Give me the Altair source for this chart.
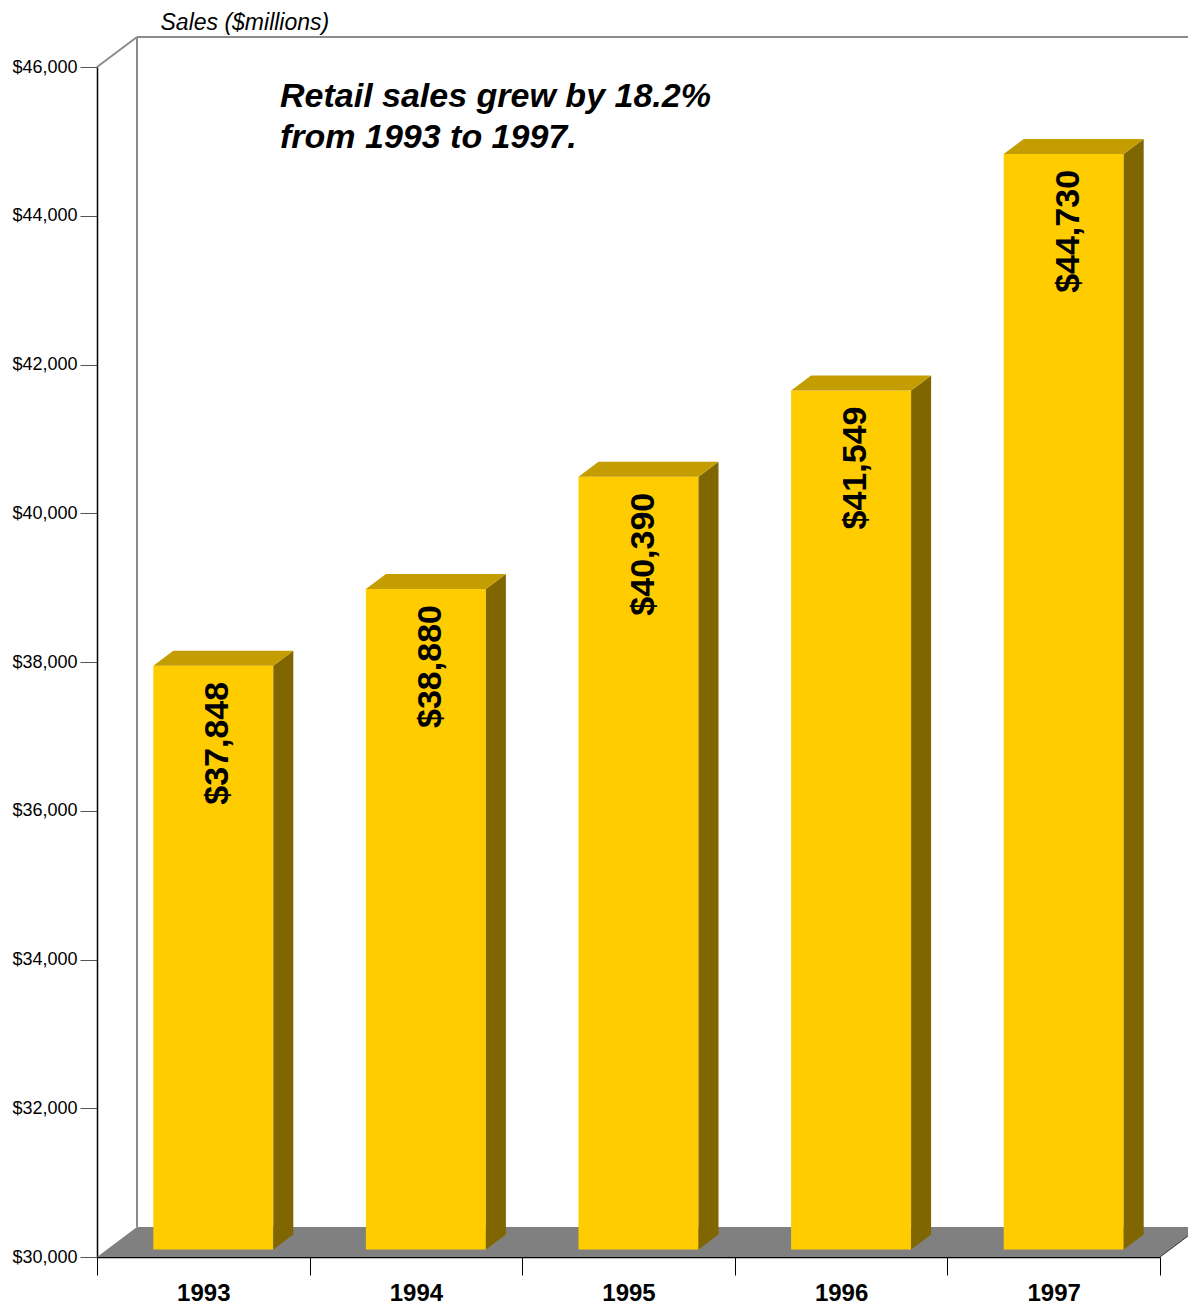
import altair as alt
import pandas as pd

# ---------------- data ----------------
YEARS = ["1993", "1994", "1995", "1996", "1997"]
SALES = [37848, 38880, 40390, 41549, 44730]
Y_TICKS = [30000, 32000, 34000, 36000, 38000, 40000, 42000, 44000, 46000]
ANNOTATION = ["Retail sales grew by 18.2%", "from 1993 to 1997."]
Y_TITLE = "Sales ($millions)"

# ---------------- layout / style ----------------
FONT = "Liberation Sans"
PLOT_W, PLOT_H = 1091, 1220
X_RANGE_PX = 1063
Y_RANGE = [1220, 30]
N = len(YEARS)
Y0, YMAX = Y_TICKS[0], Y_TICKS[-1]
BAND_PX = X_RANGE_PX / N
PX_PER_UNIT = (Y_RANGE[0] - Y_RANGE[1]) / (YMAX - Y0)
DX = 40 / BAND_PX          # scene depth in x data units
DY = 30 / PX_PER_UNIT      # scene depth in y data units
HALF_W = 60 / BAND_PX      # half bar width in x data units

FRONT = "#FFCC00"
TOP = "#C49E00"
SIDE = "#806600"
FLOOR = "#808080"
WALL = "#8C8C8C"

XS = alt.Scale(domain=[0, N], range=[0, X_RANGE_PX], nice=False, zero=False)
YS = alt.Scale(domain=[Y0, YMAX], range=Y_RANGE, nice=False, zero=False)

# ---------------- derived tables ----------------
front_rows, top_rows, side_rows, label_rows = [], [], [], []
for i, (yr, v) in enumerate(zip(YEARS, SALES)):
    c = i + 0.5 + DX / 4
    L, R = c - HALF_W, c + HALF_W
    front_rows.append({"year": yr, "x": L, "x2": R, "y": v + DY / 4, "y2": Y0 + DY / 4})
    top_rows.append({"year": yr, "y": v + DY / 4, "x": L, "x2": R})
    top_rows.append({"year": yr, "y": v + 3 * DY / 4, "x": L + DX / 2, "x2": R + DX / 2})
    side_rows.append({"year": yr, "x": R, "y": v + DY / 4, "y2": Y0 + DY / 4})
    side_rows.append({"year": yr, "x": R + DX / 2, "y": v + 3 * DY / 4, "y2": Y0 + 3 * DY / 4})
    label_rows.append({"year": yr, "x": c, "y": v + DY / 4, "label": "$" + format(v, ",")})

front_df = pd.DataFrame(front_rows)
top_df = pd.DataFrame(top_rows)
side_df = pd.DataFrame(side_rows)
label_df = pd.DataFrame(label_rows)

floor_df = pd.DataFrame([
    {"y": Y0, "x": 0, "x2": N},
    {"y": Y0 + DY, "x": DX, "x2": N + DX},
])
wall_df = pd.DataFrame([
    {"x": 0, "y": YMAX, "x2": DX, "y2": YMAX + DY},
    {"x": DX, "y": Y0 + DY, "x2": DX, "y2": YMAX + DY},
    {"x": DX, "y": YMAX + DY, "x2": N + 2 * DX, "y2": YMAX + DY},
])
edge_df = pd.DataFrame([{"x": N, "y": Y0, "x2": N + DX, "y2": Y0 + DY}])

label_expr = "[" + ",".join("'" + y + "'" for y in YEARS) + ",''][datum.value]"

x_axis = alt.Axis(
    values=list(range(N + 1)), labelExpr=label_expr, labelOffset=BAND_PX / 2,
    tickSize=18, tickColor="#000000", domainColor="#000000", domainWidth=1.5,
    labelFont=FONT, labelFontSize=24, labelFontWeight="bold", labelColor="#000000",
    labelBaseline="alphabetic", labelPadding=25, labelFlush=False, labelOverlap=False,
    grid=False, title="",
)
y_axis = alt.Axis(
    values=Y_TICKS, format="$,.0f", tickSize=17, tickColor="#555555",
    domainColor="#000000", domainWidth=1.5, labelFont=FONT, labelFontSize=18,
    labelColor="#000000", labelPadding=3, grid=False,
    title=Y_TITLE, titleAngle=0, titleX=63, titleY=-8, titleAlign="left",
    titleBaseline="alphabetic", titleFont=FONT, titleFontSize=23,
    titleFontStyle="italic", titleFontWeight="normal", titleColor="#000000",
)


def X(field, **kw):
    return alt.X(field, type="quantitative", scale=XS, axis=x_axis, **kw)


def Y(field, **kw):
    return alt.Y(field, type="quantitative", scale=YS, axis=y_axis, **kw)


floor = alt.Chart(floor_df).mark_area(orient="horizontal", color=FLOOR).encode(
    y=Y("y"), x=X("x", stack=False), x2="x2:Q",
)
walls = alt.Chart(wall_df).mark_rule(color=WALL, strokeWidth=2).encode(
    x=X("x"), x2="x2:Q", y=Y("y"), y2="y2:Q",
)
edge = alt.Chart(edge_df).mark_rule(color="#333333", strokeWidth=1).encode(
    x=X("x"), x2="x2:Q", y=Y("y"), y2="y2:Q",
)
fronts = alt.Chart(front_df).mark_bar(color=FRONT).encode(
    x=X("x"), x2="x2:Q", y=Y("y"), y2="y2:Q",
)
sides = alt.Chart(side_df).mark_area(orient="vertical", color=SIDE).encode(
    x=X("x"), y=Y("y", stack=False), y2="y2:Q", detail="year:N",
)
tops = alt.Chart(top_df).mark_area(orient="horizontal", color=TOP).encode(
    y=Y("y"), x=X("x", stack=False), x2="x2:Q", detail="year:N",
)
labels = alt.Chart(label_df).mark_text(
    angle=270, align="right", baseline="middle", dx=-16, dy=5,
    font=FONT, fontSize=34, fontWeight="bold", color="#000000",
).encode(x=X("x"), y=Y("y"), text="label:N")
note = alt.Chart(pd.DataFrame({"k": [0]})).mark_text(
    text=ANNOTATION, align="left", baseline="alphabetic", lineHeight=41,
    font=FONT, fontSize=34, fontWeight="bold", fontStyle="italic", color="#000000",
).encode(x=alt.value(183), y=alt.value(70))

chart = alt.layer(floor, walls, edge, fronts, sides, tops, labels, note).properties(
    width=PLOT_W, height=PLOT_H,
    autosize=alt.AutoSizeParams(type="none"),
    padding={"left": 89, "top": 29, "right": 0, "bottom": 49},
    background="#FFFFFF",
).configure_view(stroke=None)

chart.save("out.html", embed_options={"renderer": "svg", "actions": False})
